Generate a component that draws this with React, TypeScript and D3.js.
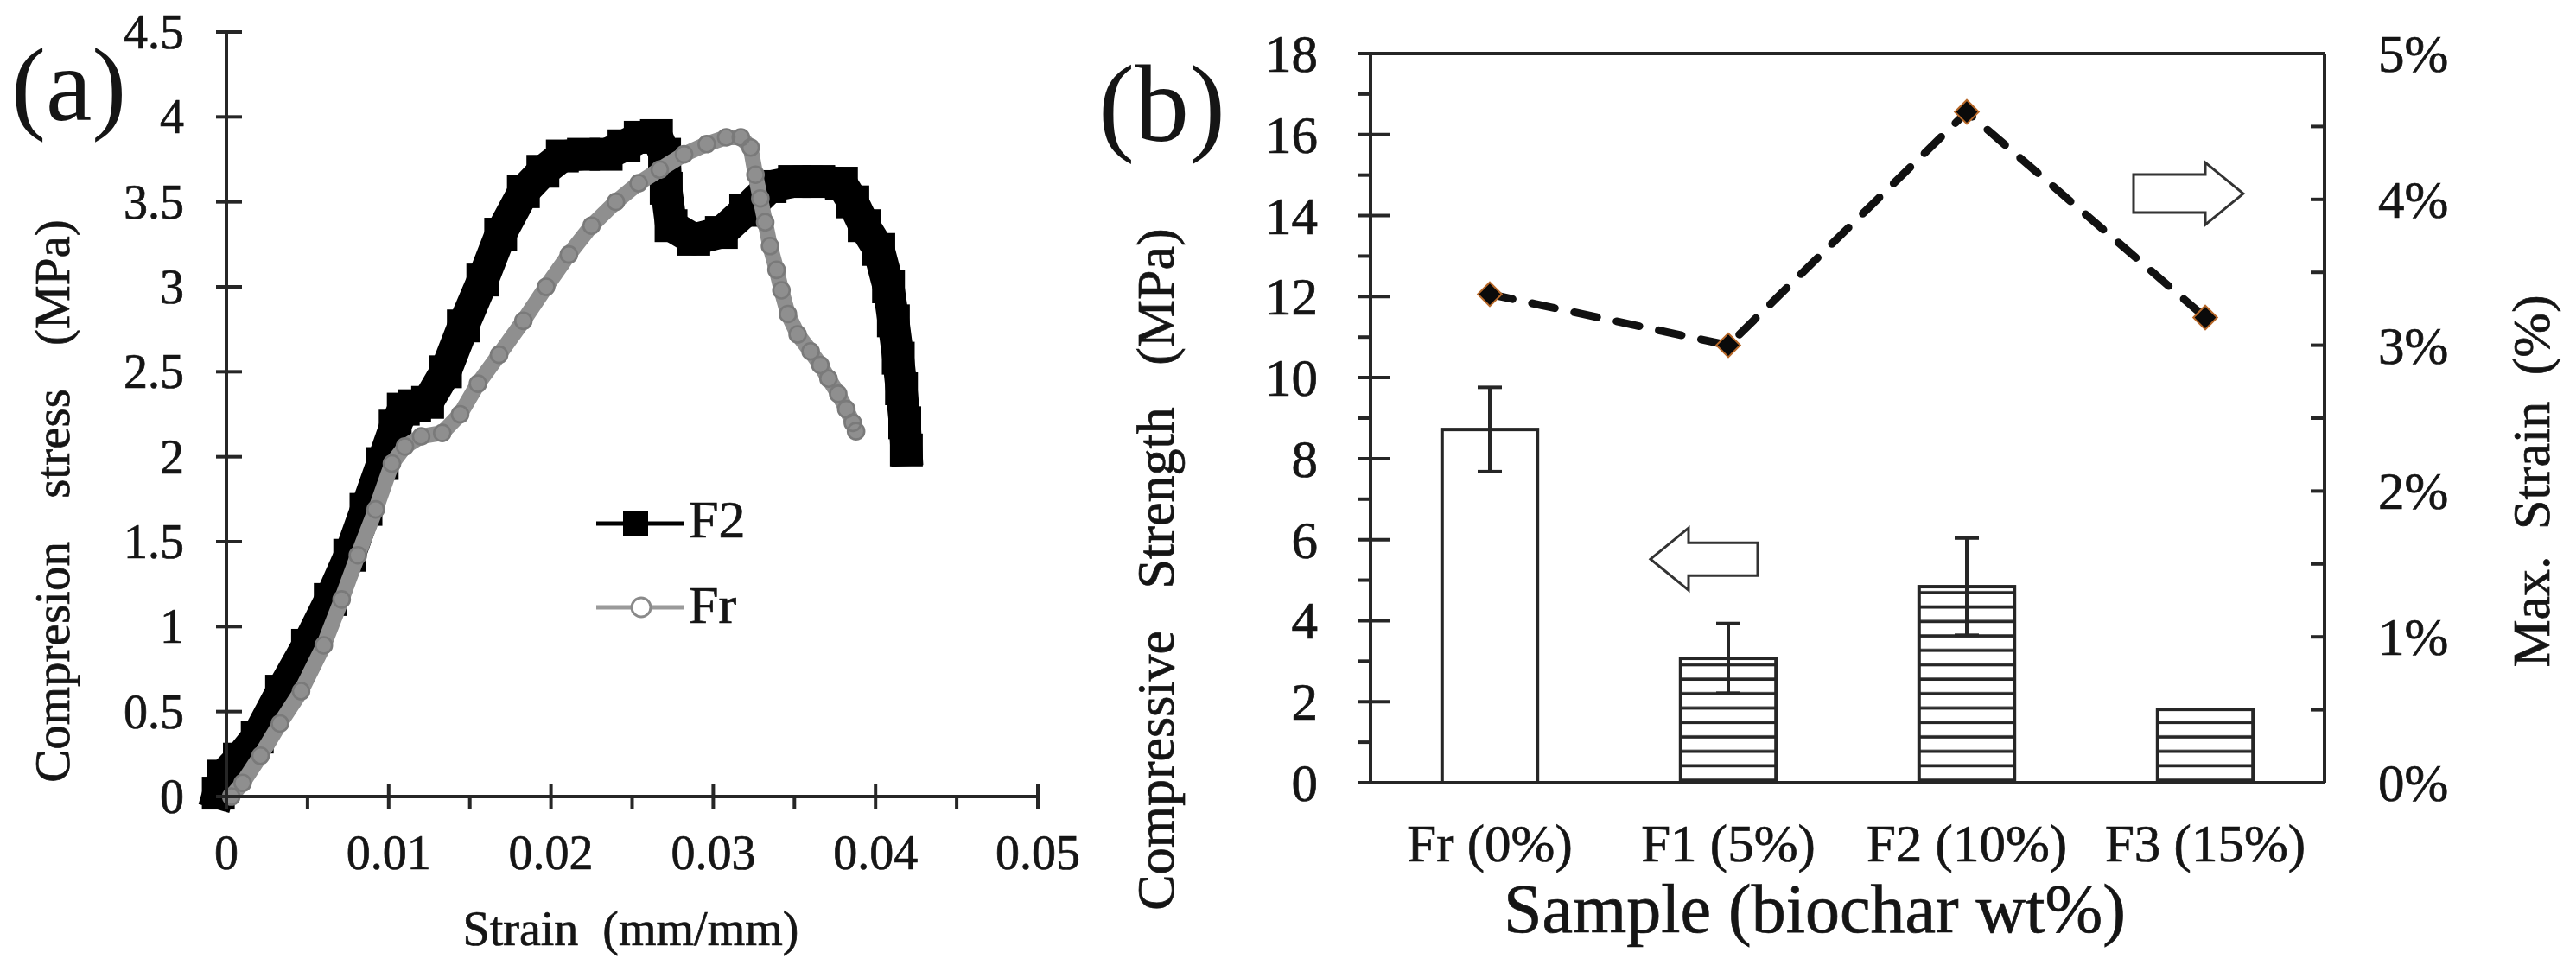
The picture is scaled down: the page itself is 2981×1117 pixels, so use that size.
import React, { useEffect } from 'react';
import * as d3 from 'd3';

// ---------- Panel (a) data ----------
const STRAIN_TICKS = [0, 0.01, 0.02, 0.03, 0.04, 0.05];
const STRAIN_TICK_LABELS = ['0', '0.01', '0.02', '0.03', '0.04', '0.05'];
const STRAIN_MINOR_TICKS = [0.005, 0.015, 0.025, 0.035, 0.045];
const STRESS_TICKS = [0, 0.5, 1, 1.5, 2, 2.5, 3, 3.5, 4, 4.5];
const STRESS_TICK_LABELS = ['0', '0.5', '1', '1.5', '2', '2.5', '3', '3.5', '4', '4.5'];

const F2_STRAIN = [-0.0005, -0.0002, 0.0008, 0.0019, 0.0034, 0.005, 0.0064, 0.0076, 0.0086, 0.0096,
  0.0104, 0.0109, 0.0116, 0.0124, 0.0135, 0.0146, 0.0158, 0.0169, 0.0183, 0.0195,
  0.0207, 0.022, 0.0234, 0.0245, 0.0255, 0.0265, 0.027, 0.0271, 0.0274, 0.0288,
  0.0305, 0.032, 0.0335, 0.035, 0.0365, 0.0379, 0.0386, 0.0393, 0.0402, 0.0408,
  0.0411, 0.0414, 0.0416, 0.0418, 0.0419];
const F2_STRESS = [0.02, 0.12, 0.22, 0.35, 0.62, 0.89, 1.16, 1.42, 1.69, 1.96,
  2.18, 2.28, 2.3, 2.32, 2.5, 2.77, 3.04, 3.31, 3.56, 3.68,
  3.77, 3.78, 3.78, 3.83, 3.88, 3.89, 3.78, 3.58, 3.36, 3.28,
  3.32, 3.45, 3.59, 3.62, 3.62, 3.61, 3.5, 3.36, 3.22, 3.0,
  2.8, 2.58, 2.4, 2.2, 2.04];

const FR_STRAIN = [0.0003, 0.001, 0.0021, 0.0033, 0.0046, 0.006, 0.0071, 0.0081, 0.0092, 0.0102,
  0.011, 0.012, 0.0133, 0.0144, 0.0155, 0.0168, 0.0183, 0.0197, 0.0211, 0.0225,
  0.024, 0.0254, 0.0267, 0.0282, 0.0296, 0.0308, 0.0317, 0.0323, 0.0326, 0.0329,
  0.0332, 0.0335, 0.0339, 0.0342, 0.0346, 0.0352, 0.036, 0.0366, 0.0371, 0.0377,
  0.0382, 0.0386, 0.0388];
const FR_STRESS = [0.0, 0.08, 0.24, 0.43, 0.62, 0.89, 1.16, 1.42, 1.69, 1.96,
  2.06, 2.12, 2.14, 2.25, 2.43, 2.6, 2.8, 3.0, 3.19, 3.36,
  3.5, 3.61, 3.69, 3.78, 3.84, 3.88, 3.88, 3.82, 3.66, 3.52,
  3.38, 3.24, 3.1, 2.98, 2.84, 2.72, 2.62, 2.54, 2.46, 2.37,
  2.28, 2.2, 2.15];

// ---------- Panel (b) data ----------
const SAMPLES = ['Fr (0%)', 'F1 (5%)', 'F2 (10%)', 'F3 (15%)'];
const STRENGTH = [8.72, 3.07, 4.84, 1.81];
const STRENGTH_ERR = [1.04, 0.86, 1.2, 0];
const HATCHED = [false, true, true, true];
const MAX_STRAIN = [0.0335, 0.03, 0.046, 0.0319];
const STRENGTH_TICKS = [0, 2, 4, 6, 8, 10, 12, 14, 16, 18];
const STRENGTH_MINOR = [1, 3, 5, 7, 9, 11, 13, 15, 17];
const MAXSTRAIN_TICKS = [0, 0.01, 0.02, 0.03, 0.04, 0.05];
const MAXSTRAIN_LABELS = ['0%', '1%', '2%', '3%', '4%', '5%'];
const MAXSTRAIN_MINOR = [0.005, 0.015, 0.025, 0.035, 0.045];

const FONT = "'Liberation Serif', 'Times New Roman', serif";
const INK = '#151515';
const AX = '#262626';
const TS = { stroke: INK, strokeWidth: 0.7 } as const;

export default function App() {
  useEffect(() => {
    document.body.style.margin = '0';
  }, []);

  // Panel (a) scales
  const xA = d3.scaleLinear().domain([0, 0.05]).range([262, 1201]);
  const yA = d3.scaleLinear().domain([0, 4.5]).range([922, 37]);
  const f2Pts: [number, number][] = F2_STRAIN.map((s, i) => [xA(s), yA(F2_STRESS[i])]);
  const frPts: [number, number][] = FR_STRAIN.map((s, i) => [xA(s), yA(FR_STRESS[i])]);
  const lineGen = d3.line();
  const f2Path = lineGen(f2Pts) || '';
  const frPath = lineGen(frPts) || '';

  // Panel (b) scales
  const xB = d3.scaleBand<string>().domain(SAMPLES).range([1586, 2690]).paddingInner(0.6).paddingOuter(0.3);
  const yB = d3.scaleLinear().domain([0, 18]).range([906, 62]);
  const yR = d3.scaleLinear().domain([0, 0.05]).range([906, 62]);
  const bw = xB.bandwidth();
  const strainPts: [number, number][] = SAMPLES.map((s, i) => [(xB(s) || 0) + bw / 2, yR(MAX_STRAIN[i])]);
  const strainPath = d3.line()(strainPts) || '';
  const diamond = d3.symbol().type(d3.symbolSquare).size(380)() || '';

  const arrowLeft = (tipX: number, cy: number) => {
    const headW = 44, headH = 36, shaftH = 19, len = 124;
    return [
      [tipX, cy], [tipX + headW, cy - headH], [tipX + headW, cy - shaftH], [tipX + len, cy - shaftH],
      [tipX + len, cy + shaftH], [tipX + headW, cy + shaftH], [tipX + headW, cy + headH],
    ].map(p => p.join(',')).join(' ');
  };
  const arrowRight = (tipX: number, cy: number) => {
    const headW = 44, headH = 36, shaftH = 22, len = 127;
    return [
      [tipX, cy], [tipX - headW, cy - headH], [tipX - headW, cy - shaftH], [tipX - len, cy - shaftH],
      [tipX - len, cy + shaftH], [tipX - headW, cy + shaftH], [tipX - headW, cy + headH],
    ].map(p => p.join(',')).join(' ');
  };

  return (
    <svg width={2981} height={1117} viewBox="0 0 2981 1117"
      style={{ position: 'absolute', left: 0, top: 0, background: '#fff' }}
      fontFamily={FONT}>
      <defs>
        <pattern id="hatch" patternUnits="userSpaceOnUse" width={40} height={16.7} y={10}>
          <rect width={40} height={16.7} fill="#fff" />
          <line x1={0} x2={40} y1={8} y2={8} stroke={AX} strokeWidth={3.6} />
        </pattern>
      </defs>
      <rect x={0} y={0} width={2981} height={1117} fill="#fff" />

      {/* ================= Panel (a) ================= */}
      <text x={13} y={139} fontSize={120} fill={INK}>(a)</text>

      {/* curves: F2 then Fr on top */}
      <path d={f2Path} fill="none" stroke="#000" strokeWidth={37} strokeLinejoin="round" strokeLinecap="square" />
      {f2Pts.map((p, i) => (
        <rect key={'f2' + i} x={p[0] - 19} y={p[1] - 19} width={38} height={38} fill="#000" />
      ))}
      <path d={frPath} fill="none" stroke="#8f8f8f" strokeWidth={18} strokeLinejoin="round" strokeLinecap="round" />
      {frPts.map((p, i) => (
        <circle key={'fr' + i} cx={p[0]} cy={p[1]} r={9.5} fill="none" stroke="#7a7a7a" strokeWidth={2.6} />
      ))}

      {/* axes a */}
      <line x1={xA(0)} x2={xA(0.05)} y1={yA(0)} y2={yA(0)} stroke={AX} strokeWidth={4} />
      <line x1={xA(0)} x2={xA(0)} y1={yA(0)} y2={yA(4.5)} stroke={AX} strokeWidth={4} />
      {STRAIN_TICKS.map((t, i) => (
        <g key={'xt' + i}>
          <line x1={xA(t)} x2={xA(t)} y1={yA(0) - 15} y2={yA(0) + 14} stroke={AX} strokeWidth={4} />
          <text x={xA(t)} y={1006} fontSize={56} textAnchor="middle" fill={INK} {...TS}>{STRAIN_TICK_LABELS[i]}</text>
        </g>
      ))}
      {STRAIN_MINOR_TICKS.map((t, i) => (
        <line key={'xm' + i} x1={xA(t)} x2={xA(t)} y1={yA(0)} y2={yA(0) + 14} stroke={AX} strokeWidth={4} />
      ))}
      {STRESS_TICKS.map((t, i) => (
        <g key={'yt' + i}>
          <line x1={xA(0) - 12} x2={xA(0) + 18} y1={yA(t)} y2={yA(t)} stroke={AX} strokeWidth={4} />
          <text x={213} y={yA(t) + 19} fontSize={56} textAnchor="end" fill={INK} {...TS}>{STRESS_TICK_LABELS[i]}</text>
        </g>
      ))}
      <text x={730} y={1094} fontSize={56} textAnchor="middle" fill={INK} wordSpacing={14} {...TS}>Strain (mm/mm)</text>
      <text transform={`translate(80,580) rotate(-90)`} fontSize={57} textAnchor="middle" fill={INK} wordSpacing={36} {...TS}>Compresion stress (MPa)</text>

      {/* legend a */}
      <line x1={690} x2={792} y1={606} y2={606} stroke="#000" strokeWidth={5} />
      <rect x={721} y={592} width={29} height={29} fill="#000" />
      <text x={797} y={622} fontSize={62} fill={INK} {...TS}>F2</text>
      <line x1={690} x2={792} y1={703} y2={703} stroke="#9a9a9a" strokeWidth={5} />
      <circle cx={742} cy={703} r={11} fill="#fff" stroke="#8a8a8a" strokeWidth={3} />
      <text x={797} y={721} fontSize={62} fill={INK} {...TS}>Fr</text>

      {/* ================= Panel (b) ================= */}
      <text x={1271} y={163} fontSize={126} fill={INK}>(b)</text>

      {/* bars */}
      {SAMPLES.map((s, i) => {
        const x0 = xB(s) || 0;
        return (
          <rect key={'bar' + i} x={x0} y={yB(STRENGTH[i])} width={bw} height={yB(0) - yB(STRENGTH[i])}
            fill={HATCHED[i] ? 'url(#hatch)' : '#fff'} stroke={AX} strokeWidth={4} />
        );
      })}
      {/* error bars */}
      {SAMPLES.map((s, i) => {
        if (!STRENGTH_ERR[i]) return null;
        const cx = (xB(s) || 0) + bw / 2;
        const yt = yB(STRENGTH[i] + STRENGTH_ERR[i]);
        const yb = yB(STRENGTH[i] - STRENGTH_ERR[i]);
        return (
          <g key={'err' + i} stroke={AX} strokeWidth={4}>
            <line x1={cx} x2={cx} y1={yt} y2={yb} />
            <line x1={cx - 14} x2={cx + 14} y1={yt} y2={yt} />
            <line x1={cx - 14} x2={cx + 14} y1={yb} y2={yb} />
          </g>
        );
      })}

      {/* dashed max strain line */}
      <path d={strainPath} fill="none" stroke="#111" strokeWidth={9} strokeDasharray="27 23" strokeLinecap="round" />
      {strainPts.map((p, i) => (
        <path key={'dm' + i} d={diamond} transform={`translate(${p[0]},${p[1]}) rotate(45)`}
          fill="#0a0a0a" stroke="#b8692a" strokeWidth={2} />
      ))}

      {/* arrows */}
      <polygon points={arrowLeft(1910, yB(5.52))} fill="#fff" stroke="#333" strokeWidth={3} />
      <polygon points={arrowRight(2596, yR(0.0404))} fill="#fff" stroke="#333" strokeWidth={3} />

      {/* frame & axes b */}
      <line x1={1573} x2={2690} y1={yB(18)} y2={yB(18)} stroke={AX} strokeWidth={4} />
      <line x1={1586} x2={2690} y1={yB(0)} y2={yB(0)} stroke={AX} strokeWidth={4} />
      <line x1={1586} x2={1586} y1={yB(0)} y2={yB(18)} stroke={AX} strokeWidth={4} />
      <line x1={2690} x2={2690} y1={yR(0)} y2={yR(0.05)} stroke={AX} strokeWidth={4} />
      {STRENGTH_TICKS.map((t, i) => (
        <g key={'lt' + i}>
          <line x1={1572} x2={1608} y1={yB(t)} y2={yB(t)} stroke={AX} strokeWidth={4} />
          <text x={1525} y={yB(t) + 21} fontSize={61} textAnchor="end" fill={INK} {...TS}>{t}</text>
        </g>
      ))}
      {STRENGTH_MINOR.map((t, i) => (
        <line key={'lm' + i} x1={1572} x2={1586} y1={yB(t)} y2={yB(t)} stroke={AX} strokeWidth={4} />
      ))}
      {MAXSTRAIN_TICKS.map((t, i) => (
        <g key={'rt' + i}>
          <line x1={2674} x2={2690} y1={yR(t)} y2={yR(t)} stroke={AX} strokeWidth={4} />
          <text x={2752} y={yR(t) + 21} fontSize={61} textAnchor="start" fill={INK} {...TS}>{MAXSTRAIN_LABELS[i]}</text>
        </g>
      ))}
      {MAXSTRAIN_MINOR.map((t, i) => (
        <line key={'rm' + i} x1={2674} x2={2690} y1={yR(t)} y2={yR(t)} stroke={AX} strokeWidth={4} />
      ))}
      {SAMPLES.map((s, i) => (
        <text key={'cat' + i} x={(xB(s) || 0) + bw / 2} y={997} fontSize={61} textAnchor="middle" fill={INK} {...TS}>{s}</text>
      ))}
      <text x={2100} y={1079} fontSize={80} textAnchor="middle" fill={INK} {...TS}>Sample (biochar wt%)</text>
      <text transform={`translate(1358,659) rotate(-90)`} fontSize={62} textAnchor="middle" fill={INK} wordSpacing={33} {...TS}>Compressive Strength (MPa)</text>
      <text transform={`translate(2950,557) rotate(-90)`} fontSize={62} textAnchor="middle" fill={INK} wordSpacing={15} {...TS}>Max. Strain (%)</text>
    </svg>
  );
}
